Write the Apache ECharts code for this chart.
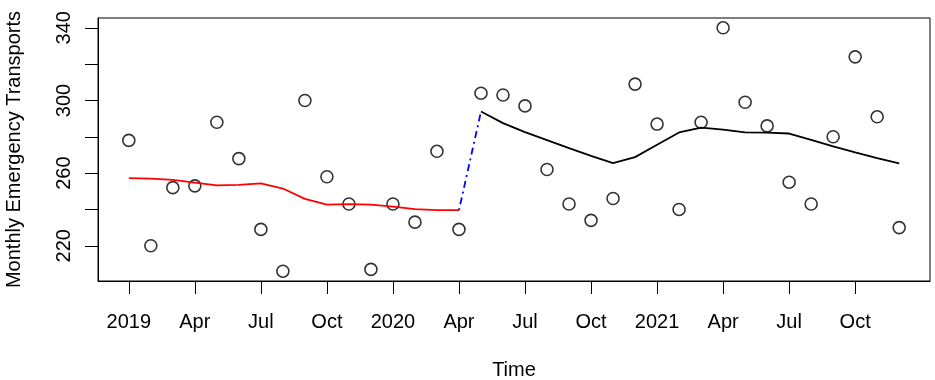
<!DOCTYPE html>
<html>
<head>
<meta charset="utf-8">
<script src="https://cdn.jsdelivr.net/npm/echarts@6/dist/echarts.min.js"></script>
<style>
  html, body { margin: 0; padding: 0; background: #fff; }
  #chart { width: 935px; height: 380px; }
</style>
</head>
<body>
<div id="chart"></div>
<script>
// month index 0 = Jan 2019
const tickMonths = [0, 3, 6, 9, 12, 15, 18, 21, 24, 27, 30, 33]
const tickLabels = ['2019', 'Apr', 'Jul', 'Oct', '2020', 'Apr', 'Jul', 'Oct', '2021', 'Apr', 'Jul', 'Oct']

// observed monthly counts, Jan 2019 .. Dec 2021
const observed = [
  278, 220, 252, 253, 288, 268, 229, 206, 300, 258, 243, 207,
  243, 233, 272, 229, 304, 303, 297, 262, 243, 234, 246, 309,
  287, 240, 288, 340, 299, 286, 255, 243, 280, 324, 291, 230,
]

// fitted trend before the break (months 0..15)
const trendBefore = [257.2, 257, 256.3, 254.8, 253.2, 253.5, 254.3, 251.5, 245.8, 242.7, 242.9, 242.7, 241.6, 240.2, 239.6, 239.6]
// fitted trend after the break (months 16..35)
const trendAfter = [293.9, 287.5, 282.6, 278.2, 273.8, 269.5, 265.5, 268.8, 275.6, 282.4, 285.1, 283.9, 282.4, 282.3, 281.8, 278.3, 274.7, 271.4, 268.3, 265.3]

const yTicks = [220, 240, 260, 280, 300, 320, 340]
const yLabels = [220, 260, 300, 340]

const font = 'Arial, "Liberation Sans", sans-serif'

const pointData = observed.map((v, i) => [i, v])
const beforeData = trendBefore.map((v, i) => [i, v])
const afterData = trendAfter.map((v, i) => [i + 16, v])
const breakData = [[15, trendBefore[15]], [16, trendAfter[0]]]

const chart = echarts.init(document.getElementById('chart'))
chart.setOption({
  animation: false,
  grid: {
    left: 98, right: 5, top: 18, bottom: 99,
    outerBoundsMode: 'none',
    containLabel: false,
    show: true, borderColor: '#000', borderWidth: 1,
  },
  xAxis: {
    type: 'value',
    min: -1.4,
    max: 36.4,
    name: 'Time',
    nameLocation: 'middle',
    nameGap: 79,
    nameTextStyle: { color: '#000', fontSize: 20, fontFamily: font },
    splitLine: { show: false },
    axisLine: { show: true, onZero: false, lineStyle: { color: '#000' } },
    axisTick: { show: true, inside: false, length: 13, customValues: tickMonths, lineStyle: { color: '#000' } },
    axisLabel: {
      customValues: tickMonths,
      margin: 31,
      color: '#000',
      fontSize: 20,
      fontFamily: font,
      formatter: (v) => tickLabels[tickMonths.indexOf(Math.round(v))] || '',
    },
  },
  yAxis: {
    type: 'value',
    min: 200.6,
    max: 345.4,
    name: 'Monthly Emergency Transports',
    nameLocation: 'middle',
    nameGap: 74,
    nameRotate: 90,
    nameTextStyle: { color: '#000', fontSize: 20, fontFamily: font },
    splitLine: { show: false },
    axisLine: { show: true, onZero: false, lineStyle: { color: '#000' } },
    axisTick: { show: true, inside: false, length: 13, customValues: yTicks, lineStyle: { color: '#000' } },
    axisLabel: {
      customValues: yLabels,
      rotate: 90,
      margin: 24,
      color: '#000',
      fontSize: 20,
      fontFamily: font,
    },
  },
  series: [
    {
      type: 'scatter',
      data: pointData,
      symbol: 'circle',
      symbolSize: 12,
      itemStyle: { color: 'rgba(0,0,0,0)', borderColor: '#000', borderWidth: 1.6 },
    },
    {
      type: 'line',
      data: beforeData,
      showSymbol: false,
      lineStyle: { color: '#ff0000', width: 1.8 },
    },
    {
      type: 'line',
      data: breakData,
      showSymbol: false,
      lineStyle: { color: '#0000ff', width: 1.8, type: [2, 4, 7, 4] },
    },
    {
      type: 'line',
      data: afterData,
      showSymbol: false,
      lineStyle: { color: '#000', width: 1.8 },
    },
  ],
})
</script>
</body>
</html>
